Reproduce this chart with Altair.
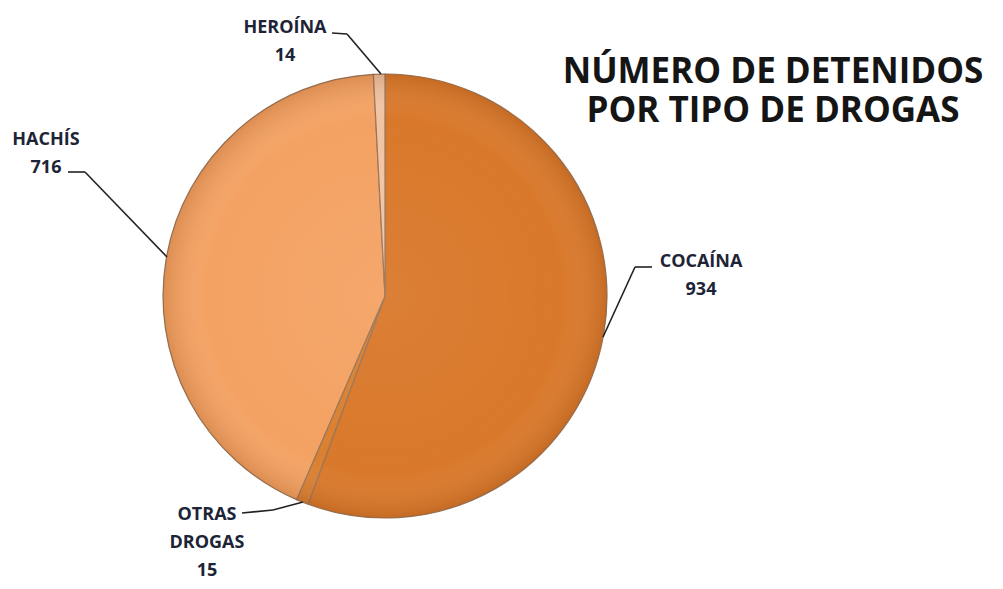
import altair as alt
import pandas as pd

categories = ["COCAÍNA", "OTRAS DROGAS", "HACHÍS", "HEROÍNA"]
values = [934, 15, 716, 14]
order = [0, 1, 2, 3]
colors = ["#D9782A", "#DA8030", "#F4A263", "#F1C4A4"]

df = pd.DataFrame({"cat": categories, "value": values, "ord": order})

W, H = 987, 573
CX, CY, R = 377, 288, 222

base = alt.Chart(df)

pie = base.mark_arc(outerRadius=R, stroke="#9a7558", strokeWidth=1.2).encode(
    theta=alt.Theta("value:Q", stack=True),
    order=alt.Order("ord:Q"),
    color=alt.Color("cat:N", scale=alt.Scale(domain=categories, range=colors), legend=None),
    x=alt.value(CX),
    y=alt.value(CY),
)

shade = base.transform_aggregate(total="sum(value)").mark_arc(
    outerRadius=R,
    fill=alt.Gradient(
        gradient="radial",
        x1=0.5, y1=0.5, r1=0, x2=0.5, y2=0.5, r2=0.5,
        stops=[
            alt.GradientStop(offset=0, color="rgba(255,255,255,0.06)"),
            alt.GradientStop(offset=0.8, color="rgba(255,255,255,0)"),
            alt.GradientStop(offset=1, color="rgba(110,45,0,0.18)"),
        ],
    ),
).encode(theta=alt.Theta("total:Q"), x=alt.value(CX), y=alt.value(CY))

# label layout (plot coordinates, y = first line)
label_pos = {
    "HEROÍNA": (277, 20),
    "HACHÍS": (38, 132),
    "COCAÍNA": (693, 254),
    "OTRAS DROGAS": (199, 507),
}
leaders = {
    "HEROÍNA": [(324, 25), (339, 26), (373, 66)],
    "HACHÍS": [(60, 164), (77, 164), (159, 249)],
    "COCAÍNA": [(644, 259), (627, 259), (595, 329)],
    "OTRAS DROGAS": [(234, 505), (265, 502), (295, 494)],
}

dummy = alt.Data(values=[{"a": 1}])
layers = [pie, shade]
for c in categories:
    px, py = label_pos[c]
    t = base.transform_filter(alt.datum.cat == c).transform_calculate(
        lbl="replace(datum.cat, ' ', '\\n') + '\\n' + datum.value"
    ).mark_text(
        font="Open Sans", fontWeight="bold", fontSize=18, color="#1d2436",
        lineBreak="\n", lineHeight=28, align="center", baseline="middle",
    ).encode(text="lbl:N", x=alt.value(px), y=alt.value(py))
    layers.append(t)
    pts = leaders[c]
    for (x1, y1), (x2, y2) in zip(pts[:-1], pts[1:]):
        layers.append(
            alt.Chart(dummy).mark_rule(color="#222222", strokeWidth=1.6).encode(
                x=alt.value(x1), y=alt.value(y1), x2=alt.value(x2), y2=alt.value(y2)
            )
        )

title_lines = ["NÚMERO DE DETENIDOS", "POR TIPO DE DROGAS"]
layers.append(
    alt.Chart(dummy).mark_text(
        text=title_lines, font="Open Sans", fontWeight="bold", fontSize=35,
        lineHeight=39, color="#151515", align="center", baseline="middle",
    ).encode(x=alt.value(765), y=alt.value(64))
)

chart = alt.layer(*layers).properties(
    width=W, height=H, padding=0, autosize=alt.AutoSizeParams(type="none")
).configure_view(stroke=None)

chart.save("out.html", embed_options={"renderer": "svg", "actions": False})
